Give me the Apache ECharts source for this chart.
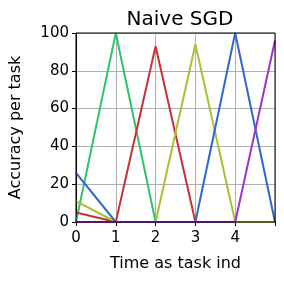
<!DOCTYPE html>
<html><head><meta charset="utf-8">
<script src="https://cdn.jsdelivr.net/npm/echarts@6/dist/echarts.min.js"></script>
<style>html,body{margin:0;padding:0;background:#fff}#c{width:284px;height:284px}</style>
</head><body><div id="c"></div>
<script>
const times = [0, 1, 2, 3, 4, 5];
const xTickLabels = ['0', '1', '2', '3', '4'];
const greenTask = [0, 100, 0, 0, 0, 0];
const redTask = [5, 0, 93, 0, 0, 0];
const yellowTask = [11, 0, 0, 94, 0, 0];
const blueTask = [26, 0, 0, 0, 100, 0];
const purpleTask = [0, 0, 0, 0, 0, 96];

const seriesDefs = [
  {name: 'task1', data: greenTask, color: '#2ec46e'},
  {name: 'task2', data: redTask, color: '#c83232'},
  {name: 'task3', data: yellowTask, color: '#a8c234'},
  {name: 'task4', data: blueTask, color: '#3366cc'},
  {name: 'task5', data: purpleTask, color: '#a032c8'}
];

const chart = echarts.init(document.getElementById('c'), null, {renderer: 'canvas'});
const font = 'DejaVu Sans';
chart.setOption({
  animation: false,
  title: {text: 'Naive SGD', left: 175, top: 5, textAlign: 'center',
    textStyle: {fontFamily: font, fontSize: 20, fontWeight: 'normal', color: '#000'}},
  grid: {left: 75, right: 9, top: 33, bottom: 62},
  xAxis: {
    type: 'value', min: 0, max: 5, interval: 1,
    name: 'Time as task ind', nameLocation: 'middle', nameGap: 34,
    nameTextStyle: {fontFamily: font, fontSize: 16, color: '#000'},
    axisLine: {show: true, lineStyle: {color: '#000', width: 1}},
    axisTick: {show: true, length: 4, lineStyle: {color: '#000'}},
    axisLabel: {fontFamily: font, fontSize: 15, color: '#000', margin: 9,
      formatter: v => xTickLabels[v] !== undefined ? xTickLabels[v] : ''},
    splitLine: {show: true, lineStyle: {color: '#b0b0b0', width: 1}}
  },
  yAxis: {
    type: 'value', min: 0, max: 100, interval: 20,
    name: 'Accuracy per task', nameLocation: 'middle', nameGap: 52,
    nameTextStyle: {fontFamily: font, fontSize: 16, color: '#000'},
    axisLine: {show: true, lineStyle: {color: '#000', width: 1}},
    axisTick: {show: true, length: 4, lineStyle: {color: '#000'}},
    axisLabel: {fontFamily: font, fontSize: 15, color: '#000', margin: 7},
    splitLine: {show: true, lineStyle: {color: '#b0b0b0', width: 1}}
  },
  series: seriesDefs.map(s => ({
    name: s.name, type: 'line', data: times.map((t, i) => [t, s.data[i]]),
    showSymbol: false, clip: false,
    lineStyle: {color: s.color, width: 2}, itemStyle: {color: s.color}
  }))
});
const g = chart.getModel().getComponent('grid').coordinateSystem.getRect();
chart.setOption({graphic: [{type: 'rect', shape: {x: g.x, y: g.y, width: g.width, height: g.height},
  style: {fill: 'none', stroke: '#000', lineWidth: 1}, silent: true, z: 100}]});
</script></body></html>
